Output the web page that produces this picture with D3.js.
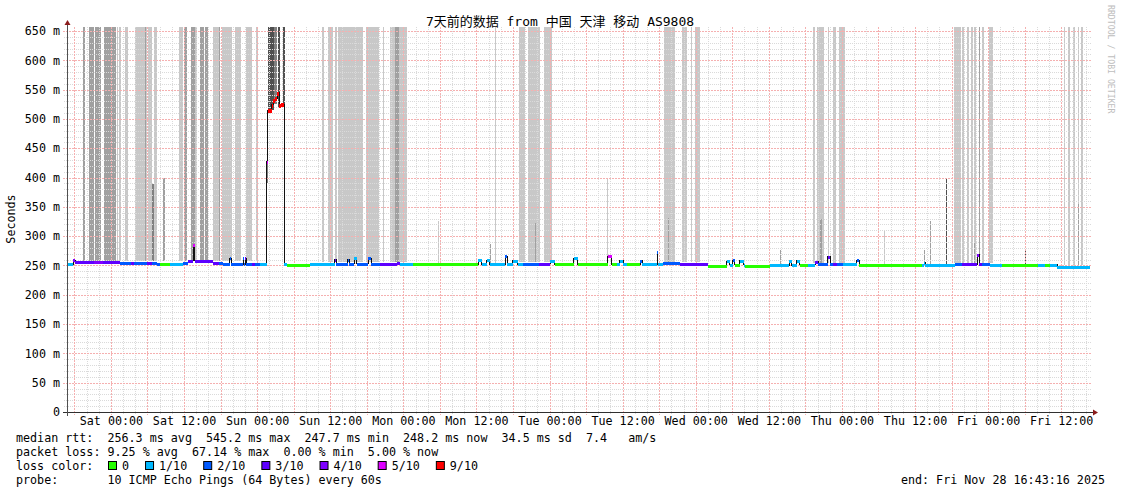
<!DOCTYPE html>
<html><head><meta charset="utf-8">
<script src="https://cdn.jsdelivr.net/npm/d3@7"></script>
<style>
body{margin:0;background:#fff;}
svg text{font-family:"DejaVu Sans Mono","Noto Sans CJK SC",monospace;fill:#000;white-space:pre;}
</style></head><body>
<svg id="c" width="1121" height="494"></svg>
<script>
// ---------- data ----------
const titleText = "7天前的数据 from 中国 天津 移动 AS9808";
const endLabel = "end: Fri Nov 28 16:43:16 2025";
const probeText = "10 ICMP Echo Pings (64 Bytes) every 60s";
const yTickValues = [0,50,100,150,200,250,300,350,400,450,500,550,600,650];
const rttStats = ["256.3 ms avg","545.2 ms max","247.7 ms min","248.2 ms now","34.5 ms sd","7.4   am/s"];
const lossStats = ["9.25 % avg","67.14 % max","0.00 % min","5.00 % now"];
const lossLabels = ["0","1/10","2/10","3/10","4/10","5/10","9/10"];
const lossLevels = [0,1,2,3,4,5,9];
const lossColors = {0:"#26ff00",1:"#00b8ff",2:"#0059ff",3:"#5e00ff",4:"#7e00ff",5:"#dd00ff",9:"#ff0000"};
const smokeShades = ["#c8c8c8","#a0a0a0","#808080","#505050"];
// smoke bars: [startHour, endHour, low, high, shade]  (hours after start)
const smokeBars = [
[2.77,3.02,257,700,1],[3.6,4.5,257,700,1],[4.63,5.65,257,700,1],[6.14,8.11,257,700,1],
[8.27,8.49,257,700,0],[8.6,8.93,257,700,0],[9.59,10.08,257,700,0],[11.31,11.97,257,700,0],
[12.05,13.28,257,700,0],[12.87,13.03,257,700,1],[13.41,13.94,257,700,0],[14.02,14.35,257,389,2],
[14.35,14.84,257,700,0],[15.83,16.15,257,399,1],[18.45,19.11,257,700,0],[19.27,19.72,257,700,1],
[20.37,21.08,259,700,1],[21.08,21.41,259,700,0],[21.85,22.55,259,700,1],[22.72,23.21,259,700,1],
[24.11,24.94,257,700,0],[25.02,25.19,257,700,1],[25.59,27.07,257,700,0],[27.64,28.55,257,700,0],
[29.4,30.39,257,700,0],[31.09,31.5,257,700,0],[32.85,33.0,390,430,2],[33.06,34.05,515,700,3],
[34.05,34.62,525,700,2],[34.7,35.03,520,700,3],[35.47,35.8,520,700,3],
[41.98,42.25,256,700,0],[42.96,43.78,256,700,0],[44.06,44.34,256,700,0],[44.6,45.32,256,700,0],
[45.42,48.71,256,700,0],[49.15,51.33,256,700,0],[51.99,52.15,256,700,0],[53.09,53.96,256,700,0],
[53.96,54.52,256,700,1],[54.52,55.83,256,700,0],[61.02,61.18,254,326,0],[69.58,69.75,254,287,1],
[70.32,70.49,254,700,0],[74.27,75.2,256,700,0],[75.74,76.61,256,700,0],[76.61,77.71,256,700,0],
[76.89,77.06,256,322,1],[78.37,79.73,256,700,0],[88.71,88.87,254,400,0],[98.02,99.88,256,700,0],
[98.73,98.89,256,331,1],[101.03,101.85,256,700,0],[102.45,102.61,256,700,0],[103.21,103.98,256,700,0],
[117.11,117.27,252,276,1],[122.58,122.81,254,700,0],[123.14,124.38,254,700,0],[123.68,124.01,254,329,1],
[124.94,125.2,254,700,0],[125.76,126.3,254,700,0],[126.75,127.78,254,700,0],[134.18,134.35,252,309,0],
[140.75,140.91,252,276,1],[141.73,141.9,252,326,1],[144.36,144.52,252,400,3],[145.67,146.87,254,700,0],
[147.0,147.37,254,700,0],[147.77,148.15,254,700,0],[148.53,148.76,254,700,0],[148.92,149.25,254,700,0],
[149.0,149.2,254,290,1],[149.73,149.95,254,700,1],[150.27,150.65,254,700,0],[151.5,152.13,254,700,0],
[157.28,157.44,252,275,3],[163.65,163.9,250,700,0],[164.47,164.72,250,700,0],[165.26,165.54,250,700,0],
[166.0,166.25,250,700,0],[166.05,166.2,250,355,1],[166.52,166.85,250,700,0]
];
// median rtt steps: [startHour, value(ms), loss]
const medianSteps = [
[0,252,1],[1.1,259,4],[1.38,255.3,3],[4.5,255.3,4],[6.0,255.3,3],[8.77,253.6,2],[10.5,254,3],[11.0,253.6,2],
[13.2,254,3],[14.0,253.6,2],[14.79,253,2],[15.33,252,0],[16.97,252,1],[19.11,255,2],[19.93,258.1,3],
[20.75,285,5],[21.0,258.1,3],[24.03,255,3],[25.0,255,2],[25.67,252,2],[26.82,262,2],[27.0,252,2],
[28.96,262,2],[29.12,252,2],[29.3,262,3],[29.45,253,2],[30.5,253,3],[31.0,253,2],[31.75,252,1],
[32.82,427,5],[33.0,515,9],[33.67,524,9],[33.93,533,9],[34.29,535,9],[34.59,545,9],[34.87,524,9],
[35.15,525,9],[35.74,253,1],[36.18,250.8,0],[39.96,252,1],[44.06,260,3],[44.3,253,2],[46.19,260,2],
[46.4,253,2],[47.18,262,1],[47.67,252.5,2],[49.48,262,2],[49.97,253,2],[51.45,253,3],[54.24,255,3],
[54.73,252,1],[56.86,252,0],[67.54,259,1],[68.19,252,1],[69.01,259,1],[69.5,252,1],[71.97,266,2],
[72.3,252,1],[73.28,258,1],[74.1,252,1],[74.92,253,2],[77.5,253,3],[79.36,258,1],[80.17,252,0],
[83.29,262,1],[83.95,252,0],[88.87,266,5],[89.53,252,0],[90.35,252,1],[90.8,258,1],[91.4,252,1],
[91.99,252,0],[94.13,258,2],[94.46,252,1],[96.92,273,2],[97.08,252,1],[97.9,254,2],[100.69,253,3],
[105.29,249.6,0],[108.41,257,1],[108.9,251,1],[109.39,259,2],[109.72,251,0],[110.54,258,1],
[111.2,251,1],[111.36,249.6,0],[115.47,250.5,1],[118.59,258,1],[119.08,250.5,1],[119.9,258,1],
[120.39,251,0],[121.71,251,1],[122.86,256,3],[123.35,252,2],[124.99,265,3],[125.32,252,2],
[125.81,253,3],[126.47,252,2],[127.45,252,1],[129.75,259,2],[130.08,250,0],[140.43,251,1],
[140.75,255,1],[140.92,251,1],[145.84,252,2],[147.0,252,3],[149.45,268,4],[149.78,253,3],
[150.3,252,2],[151.59,251,1],[153.56,250,0],[159.47,251,1],[160.62,251,0],[161.5,251,1],
[162.59,248.2,1]
];
const totalHours = 168;

// ---------- scales ----------
const H = 3600e3;
const endTime = Date.UTC(2025,10,28,16,43,16);
const startTime = endTime - totalHours*H;
const X0 = 66.6, X1 = 1090, YB = 412, YT = 27;
const x = d3.scaleUtc().domain([new Date(startTime), new Date(endTime)]).range([X0, X1]);
const xh = h => x(new Date(startTime + h*H));
const y = d3.scaleLinear().domain([0,650]).range([YB,31]);

const svg = d3.select("#c");
svg.append("rect").attr("width",1121).attr("height",494).attr("fill","#fff");
svg.append("clipPath").attr("id","pc").append("rect")
  .attr("x",67).attr("y",YT).attr("width",1091-67).attr("height",YB-YT);

// smoke
const gSmoke = svg.append("g").attr("clip-path","url(#pc)").attr("shape-rendering","crispEdges");
gSmoke.selectAll("rect").data(smokeBars).join("rect")
  .attr("x", d => xh(d[0]))
  .attr("width", d => Math.max(1, xh(d[1]) - xh(d[0])))
  .attr("y", d => y(d[3]))
  .attr("height", d => y(d[2]) - y(d[3]))
  .attr("fill", d => smokeShades[d[4]]);

// grid
const gGrid = svg.append("g").attr("shape-rendering","crispEdges");
const minorY = d3.range(10, 660, 10).filter(v => v % 50 !== 0);
const minorCol = "#dadada", majorCol = "#f5b0b0";
gGrid.append("g").selectAll("line").data(minorY).join("line")
  .attr("x1",64).attr("x2",1092)
  .attr("y1",v=>Math.round(y(v))+0.5).attr("y2",v=>Math.round(y(v))+0.5)
  .attr("stroke",minorCol).attr("stroke-dasharray","1,1");
const tMinor = x.ticks(d3.utcHour.every(2)).filter(t => t.getUTCHours() % 6 !== 0);
const tMajor = x.ticks(d3.utcHour.every(6));
gGrid.append("g").selectAll("line").data(tMinor).join("line")
  .attr("x1",t=>Math.round(x(t))+0.5).attr("x2",t=>Math.round(x(t))+0.5)
  .attr("y1",YT).attr("y2",YB+3)
  .attr("stroke",minorCol).attr("stroke-dasharray","1,1");
gGrid.append("g").selectAll("line").data(yTickValues.filter(v=>v>0)).join("line")
  .attr("x1",63).attr("x2",1092)
  .attr("y1",v=>Math.round(y(v))+0.5).attr("y2",v=>Math.round(y(v))+0.5)
  .attr("stroke",majorCol).attr("stroke-dasharray","2,1");
gGrid.append("g").selectAll("line").data(tMajor).join("line")
  .attr("x1",t=>Math.round(x(t))+0.5).attr("x2",t=>Math.round(x(t))+0.5)
  .attr("y1",YT).attr("y2",YB+3)
  .attr("stroke",majorCol).attr("stroke-dasharray","2,1");

// median
const medPts = medianSteps.map(d => [xh(d[0]), y(d[1])]);
medPts.push([xh(totalHours), y(medianSteps[medianSteps.length-1][1])]);
const gMed = svg.append("g").attr("clip-path","url(#pc)");
gMed.append("path")
  .attr("d", d3.line().curve(d3.curveStepAfter)(medPts))
  .attr("fill","none").attr("stroke","#111").attr("stroke-width",1)
  .attr("shape-rendering","crispEdges");
gMed.selectAll("rect").data(medianSteps).join("rect")
  .attr("shape-rendering","crispEdges")
  .attr("x", d => xh(d[0]))
  .attr("width", (d,i) => Math.max(1, xh(i+1 < medianSteps.length ? medianSteps[i+1][0] : totalHours) - xh(d[0])))
  .attr("y", d => Math.round(y(d[1])) - 1)
  .attr("height", d => d[2] === 9 ? 4 : 3)
  .attr("fill", d => lossColors[d[2]]);

// axes
const xAxis = d3.axisBottom(x).ticks(d3.utcHour.every(12))
  .tickFormat(d3.utcFormat("%a %H:%M")).tickSize(0).tickPadding(5);
const gx = svg.append("g").attr("transform",`translate(0,${YB})`).call(xAxis);
gx.select(".domain").remove();
gx.selectAll("text").attr("font-size","11.7px").attr("font-family","DejaVu Sans Mono").attr("fill","#000");

const yAxis = d3.axisLeft(y).tickValues(yTickValues)
  .tickFormat(v => v === 0 ? "0" : v + " m").tickSize(0).tickPadding(7);
const gy = svg.append("g").attr("transform","translate(67,0)").call(yAxis);
gy.select(".domain").remove();
gy.selectAll("text").attr("font-size","11.7px").attr("font-family","DejaVu Sans Mono").attr("fill","#000");

svg.append("line").attr("x1",63).attr("x2",1093).attr("y1",YB+0.5).attr("y2",YB+0.5)
  .attr("stroke","#303030").attr("shape-rendering","crispEdges");
svg.append("line").attr("x1",67.5).attr("x2",67.5).attr("y1",YT-4).attr("y2",YB+4)
  .attr("stroke","#505050").attr("shape-rendering","crispEdges");
svg.append("path").attr("d","M64.5,25 L67.5,20 L70.5,25 Z").attr("fill","#8b1c1c");
svg.append("path").attr("d","M1093,409.5 L1098,412.5 L1093,415.5 Z").attr("fill","#8b1c1c");

// texts
svg.append("text").attr("x",560).attr("y",26).attr("text-anchor","middle")
  .attr("font-size","13px").text(titleText);
svg.append("text").attr("transform","translate(15,219) rotate(-90)").attr("text-anchor","middle")
  .attr("font-size","11.7px").text("Seconds");
svg.append("text").attr("transform","translate(1107.5,5) rotate(90)")
  .attr("font-size","8.2px").style("fill","#bdbdbd").text("RRDTOOL / TOBI OETIKER");

const fs = "11.7px", cw = 7.04, lx = 16;
svg.append("text").attr("x",lx).attr("y",442).attr("font-size",fs)
  .text("median rtt:  " + rttStats.join("  "));
svg.append("text").attr("x",lx).attr("y",456).attr("font-size",fs)
  .text("packet loss: " + lossStats.join("  "));
svg.append("text").attr("x",lx).attr("y",470).attr("font-size",fs).text("loss color:");
let bx = 108;
lossLevels.forEach((lv,i) => {
  svg.append("rect").attr("x",bx+0.5).attr("y",461.5).attr("width",8).attr("height",8)
    .attr("fill",lossColors[lv]).attr("stroke","#000").attr("stroke-width",1);
  svg.append("text").attr("x",bx+14).attr("y",470).attr("font-size",fs).text(lossLabels[i]);
  bx = bx + 14 + lossLabels[i].length*cw + 16;
});
svg.append("text").attr("x",lx).attr("y",484).attr("font-size",fs).text("probe:       " + probeText);
svg.append("text").attr("x",1105).attr("y",484).attr("text-anchor","end").attr("font-size",fs).text(endLabel);
</script></body></html>
